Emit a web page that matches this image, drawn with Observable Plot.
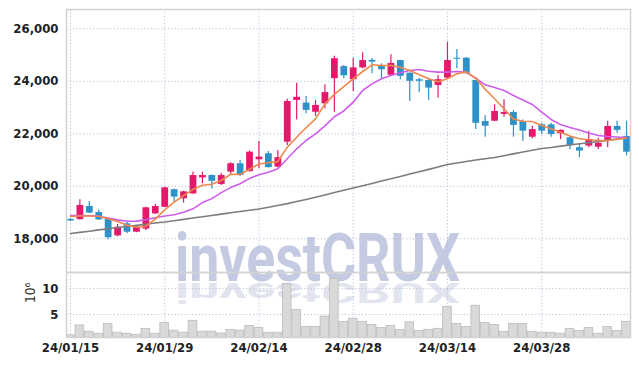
<!DOCTYPE html>
<html><head><meta charset="utf-8">
<script src="https://cdn.jsdelivr.net/npm/d3@7"></script>
<script src="https://cdn.jsdelivr.net/npm/@observablehq/plot@0.6"></script>
<style>
body{margin:0;background:#fff;}
#wrap{position:relative;width:639px;height:366px;overflow:hidden;}
#wm{position:absolute;left:0;top:0;z-index:0;}
#charts{position:absolute;left:0;top:0;z-index:1;}
#charts svg{display:block;}
</style></head><body>
<div id="wrap"><svg id="wm" width="639" height="366"></svg><div id="charts"></div></div>
<script>
const dates = ["24/01/15","24/01/16","24/01/17","24/01/18","24/01/19","24/01/22","24/01/23","24/01/24","24/01/25","24/01/26",
"24/01/29","24/01/30","24/01/31","24/02/01","24/02/02","24/02/05","24/02/06","24/02/07","24/02/08","24/02/13",
"24/02/14","24/02/15","24/02/16","24/02/19","24/02/20","24/02/21","24/02/22","24/02/23","24/02/26","24/02/27",
"24/02/28","24/02/29","24/03/04","24/03/05","24/03/06","24/03/07","24/03/08","24/03/11","24/03/12","24/03/13",
"24/03/14","24/03/15","24/03/18","24/03/19","24/03/20","24/03/21","24/03/22","24/03/25","24/03/26","24/03/27",
"24/03/28","24/03/29","24/04/01","24/04/02","24/04/03","24/04/04","24/04/05","24/04/08","24/04/09","24/04/11"];
const open  = [18740,18730,19230,19000,18760,18110,18570,18250,18370,18950,19200,19870,19520,19710,20320,20410,20070,20540,20860,20560,
21010,21240,20730,21680,23270,23170,22820,23140,24100,24560,24060,24510,24800,24600,24230,24790,24310,24060,24030,23840,
24120,24880,24880,24030,22470,22480,22740,22810,22470,21870,22340,22340,22000,21850,21470,21530,21490,21710,22280,21900];
const high  = [18760,19490,19420,19100,18790,18550,18660,18470,19200,19310,19960,19900,19810,20540,20540,20430,20500,20900,20980,21340,
21710,21330,21360,23320,23930,23420,23270,23870,24950,24600,24880,25090,24880,24670,25010,24800,24320,24120,24120,24220,
25490,25210,24910,24040,22700,23110,23300,22890,22530,22280,22400,22400,22150,21900,21620,22100,21830,22480,22480,22480];
const low   = [18650,18720,18960,18700,17960,18080,18190,18230,18320,18930,19180,19390,19360,19700,20095,19900,20030,20410,20370,20540,
20670,20700,20700,21550,22530,22760,22660,22950,22820,24100,23610,24480,24290,24100,24220,24060,23230,23560,23270,23360,
24100,24480,24280,22160,21870,22460,22630,21870,21710,21810,21970,21870,21780,21390,21090,21470,21400,21470,22020,21160];
const close = [18680,19270,18980,18720,18040,18440,18250,18440,19180,19230,19940,19590,19790,20410,20410,20190,20410,20860,20410,21300,
21110,20710,21090,23230,23390,22890,23080,23570,24860,24210,24510,24790,24730,24440,24680,24190,24000,24000,23740,24060,
24790,24840,24290,22400,22290,22850,22810,22320,22100,22160,22100,21970,22130,21560,21340,21780,21640,22280,22130,21300];
const ma5   = [18850,18870,18870,18860,18760,18660,18520,18440,18480,18750,19100,19400,19640,19880,20040,20080,20220,20460,20450,20650,
20850,20900,20940,21490,21870,22230,22570,23140,23500,23800,24095,24373,24629,24602,24602,24537,24411,24248,24095,23980,
24095,24286,24360,24120,23700,23333,22952,22560,22480,22469,22316,22190,22061,21920,21810,21771,21745,21745,21795,21840];
const ma20  = [18888,18888,18880,18862,18790,18720,18670,18672,18724,18800,18870,18914,19013,19141,19380,19530,19760,19950,20095,20300,
20440,20537,20667,21048,21429,21745,22000,22300,22650,22870,23205,23650,23900,24095,24221,24324,24411,24450,24380,24350,
24348,24373,24340,24118,23867,23760,23650,23460,23288,23117,22830,22545,22350,22240,22145,22030,21935,21897,21880,21860];
const ma120 = [18200,18245,18290,18340,18385,18430,18470,18510,18555,18600,18640,18690,18740,18790,18840,18890,18940,18990,19040,19085,
19135,19200,19270,19340,19420,19500,19585,19670,19760,19850,19935,20020,20110,20200,20290,20375,20465,20555,20645,20735,
20830,20890,20945,21000,21050,21095,21165,21235,21305,21375,21440,21480,21530,21575,21620,21660,21705,21750,21800,21845];
const volume = [1.0,2.9,1.7,1.3,3.2,1.5,1.3,1.1,2.25,1.3,3.4,1.9,1.5,3.8,1.7,1.7,1.35,2.05,1.9,2.8,
2.4,1.5,1.5,10.9,5.9,2.6,2.6,4.6,11.9,3.6,4.2,3.6,3.0,2.4,2.8,2.05,3.5,1.85,2.05,2.25,
6.5,3.2,2.6,6.7,3.4,3.0,1.65,3.2,3.2,1.65,1.5,1.5,1.3,2.25,1.85,2.4,1.3,2.6,1.85,3.6];
const priceTicks = [18000,20000,22000,24000,26000];
const volTicks = [5,10];
const dateTicks = [0,10,20,30,40,50];
const volLabel = "10⁶";
const watermark = "investCRUX";

const rows = dates.map((d,i)=>({i, date:d, open:open[i], high:high[i], low:low[i], close:close[i],
  ma5:ma5[i], ma20:ma20[i], ma120:ma120[i], vol:volume[i], up: close[i] >= open[i]}));

const UP = "#e5196b", DOWN = "#2e92c8";
const FONT = '"DejaVu Sans Condensed","Liberation Sans Narrow","Roboto Condensed","DejaVu Sans",sans-serif';
const xOpt = {type:"linear", domain:[-0.42, 59.42], axis:null};
const grid = {stroke:"#bcc0d9", strokeDasharray:"1.2,2.2", strokeWidth:1};
const baseStyle = {background:"transparent", fontFamily:FONT, fontWeight:"bold", fontSize:"13px", color:"#222", overflow:"visible"};

const price = Plot.plot({
  width:639, height:272, marginTop:9, marginBottom:0, marginLeft:66, marginRight:9,
  style: baseStyle,
  x: xOpt,
  y: {domain:[16716, 26735], axis:null},
  marks: [
    Plot.ruleY(priceTicks, grid),
    Plot.ruleX(dateTicks, grid),
    Plot.axisY(priceTicks, {tickSize:0, tickPadding:8, tickFormat:d3.format(","), letterSpacing:"-0.5px"}),
    Plot.ruleX(rows, {x:"i", y1:"low", y2:"high", stroke:d=>d.up?UP:DOWN, strokeWidth:1.2}),
    Plot.ruleX(rows, {x:"i", y1:"open", y2:"close", stroke:d=>d.up?UP:DOWN, strokeWidth:6.8}),
    Plot.lineY(rows, {x:"i", y:"ma120", stroke:"#7d7d7d", strokeWidth:1.6}),
    Plot.lineY(rows, {x:"i", y:"ma20", stroke:"#cf5cea", strokeWidth:1.6}),
    Plot.lineY(rows, {x:"i", y:"ma5", stroke:"#f0884c", strokeWidth:1.6}),
    Plot.frame({stroke:"#d2d2d2", strokeWidth:1.5})
  ]
});

const vol = Plot.plot({
  width:639, height:94, marginTop:0, marginBottom:29, marginLeft:66, marginRight:9,
  style: baseStyle,
  x: xOpt,
  y: {domain:[0.58, 13.1], axis:null},
  marks: [
    Plot.ruleY(volTicks, grid),
    Plot.ruleX(dateTicks, grid),
    Plot.rectY(rows, {x1:d=>d.i-0.46, x2:d=>d.i+0.46, y:"vol", fill:"#d9d9d9", stroke:"#bcbcbc", strokeWidth:0.8, clip:true}),
    Plot.axisY(volTicks, {tickSize:0, tickPadding:8, label:null}),
    Plot.text([volLabel], {text:d=>d, frameAnchor:"left", dx:-36, dy:-2, rotate:-90, fontWeight:"normal", fontSize:13.5, fill:"#333"}),
    Plot.axisX(dateTicks, {tickSize:0, tickPadding:5, tickFormat:i=>dates[i], label:null, letterSpacing:"-0.5px"}),
    Plot.frame({stroke:"#d2d2d2", strokeWidth:1.5})
  ]
});

document.getElementById("charts").append(price, vol);

// watermark with squashed reflection
const wm = d3.select("#wm");
const wmFont = '"Roboto","DejaVu Sans","Liberation Sans",sans-serif';
wm.append("text").text(watermark)
  .attr("x",175).attr("y",281)
  .attr("textLength",285).attr("lengthAdjust","spacingAndGlyphs")
  .attr("font-family",wmFont).attr("font-weight","bold").attr("font-size",66)
  .attr("fill","#c4cae2");
wm.append("text").text(watermark)
  .attr("x",175).attr("y",0)
  .attr("transform","translate(0,283) scale(1,-0.42)")
  .attr("textLength",285).attr("lengthAdjust","spacingAndGlyphs")
  .attr("font-family",wmFont).attr("font-weight","bold").attr("font-size",66)
  .attr("fill","#e2e5f0");
</script>
</body></html>
